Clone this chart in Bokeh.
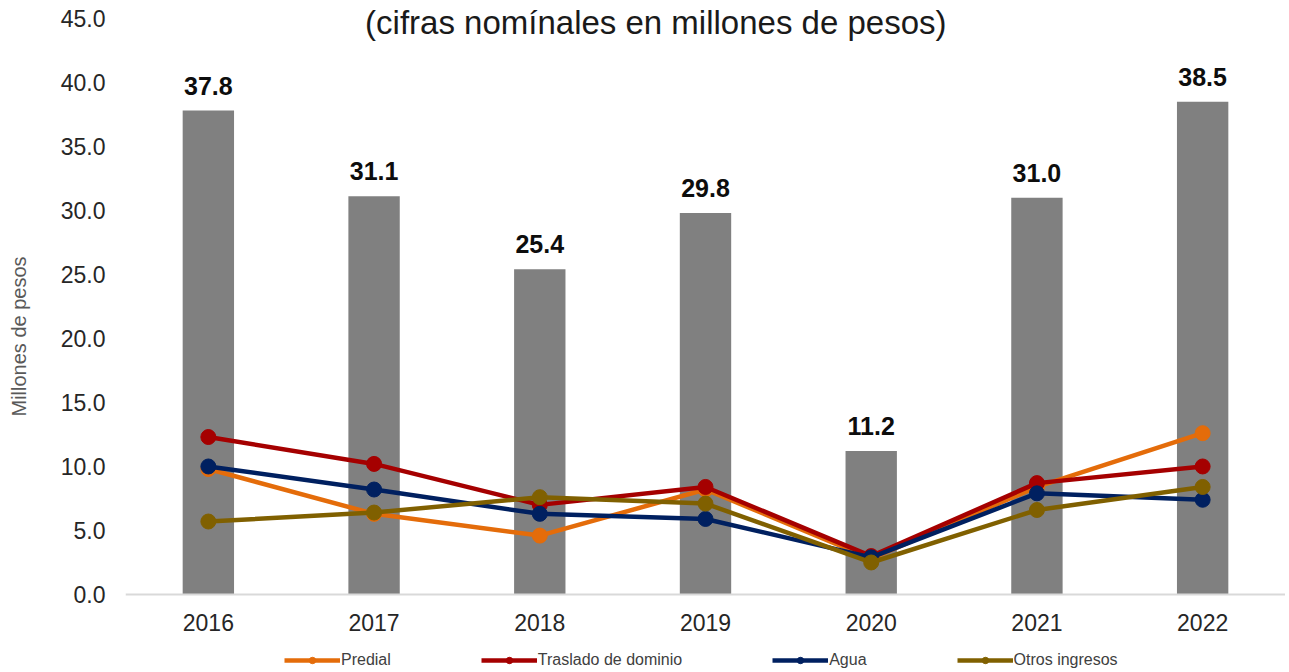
from bokeh.plotting import figure
from bokeh.models import ColumnDataSource, Label, Legend, LegendItem, FactorRange, Range1d, NumeralTickFormatter, FixedTicker
from bokeh.core.properties import value
from bokeh.embed import file_html
from bokeh.resources import INLINE

years = ["2016", "2017", "2018", "2019", "2020", "2021", "2022"]
total = [37.8, 31.1, 25.4, 29.8, 11.2, 31.0, 38.5]
predial = [9.8, 6.3, 4.6, 8.2, 2.8, 8.4, 12.6]
traslado = [12.3, 10.2, 7.0, 8.4, 3.0, 8.7, 10.0]
agua = [10.0, 8.2, 6.3, 5.9, 2.9, 7.9, 7.4]
otros = [5.7, 6.4, 7.6, 7.1, 2.5, 6.6, 8.4]
series_names = ["Predial", "Traslado de dominio", "Agua", "Otros ingresos"]
series_colors = ["#E46C0A", "#A50000", "#002060", "#806000"]
title_text = "(cifras nomínales en millones de pesos)"
y_label = "Millones de pesos"
y_ticks = [0, 5, 10, 15, 20, 25, 30, 35, 40, 45]

FONT = "Liberation Sans"

# frame extends below zero so the legend can sit inside it; x axis is pinned at y=0
p = figure(frame_width=1160, frame_height=672, x_range=FactorRange(*years, range_padding=0),
           y_range=Range1d(-6.094, 46.4), output_backend="svg", toolbar_location=None,
           min_border_left=125, min_border_top=0, min_border_right=0,
           min_border_bottom=0)
p.outline_line_color = None
p.xgrid.grid_line_color = None
p.ygrid.grid_line_color = None
p.background_fill_color = "white"
p.border_fill_color = "white"

src = ColumnDataSource(dict(x=years, total=total, lbl=[f"{v:.1f}" for v in total]))
p.vbar(x="x", top="total", bottom=0, width=0.31, source=src, fill_color="#808080", line_color=None)
p.text(x="x", y="total", text="lbl", source=src, text_align="center", text_baseline="bottom",
       y_offset=-16, text_font=value(FONT), text_font_size="25px", text_font_style="bold",
       text_color="#0d0d0d")

items = []
for name, vals, col in zip(series_names, [predial, traslado, agua, otros], series_colors):
    r1 = p.line(years, vals, line_color=col, line_width=4.5)
    r2 = p.scatter(years, vals, marker="circle", size=15, fill_color=col, line_color=col)
    items.append(LegendItem(label=name, renderers=[r1, r2]))

legend = Legend(items=items, orientation="horizontal", location=(159, 3),
                label_text_font=FONT, label_text_font_size="16px", label_text_color="#404040",
                glyph_width=56, glyph_height=16, spacing=90, label_standoff=1,
                border_line_color=None, background_fill_alpha=0, padding=0, margin=0)
p.add_layout(legend)

p.yaxis.ticker = FixedTicker(ticks=y_ticks)
p.yaxis.formatter = NumeralTickFormatter(format="0.0")
p.yaxis.axis_line_color = None
p.yaxis.major_tick_line_color = None
p.yaxis.minor_tick_line_color = None
p.yaxis.major_label_text_font = FONT
p.yaxis.major_label_text_font_size = "23px"
p.yaxis.major_label_text_color = "#262626"
p.yaxis.major_label_standoff = 14
p.yaxis.axis_label = y_label
p.yaxis.axis_label_text_font = FONT
p.yaxis.axis_label_text_font_size = "20px"
p.yaxis.axis_label_text_font_style = "normal"
p.yaxis.axis_label_text_color = "#595959"
p.yaxis.axis_label_standoff = 28

p.xaxis.fixed_location = 0
p.xaxis.axis_line_color = "#D9D9D9"
p.xaxis.axis_line_width = 2
p.xaxis.major_tick_line_color = None
p.xaxis.minor_tick_line_color = None
p.xaxis.major_label_text_font = FONT
p.xaxis.major_label_text_font_size = "23px"
p.xaxis.major_label_text_color = "#262626"
p.xaxis.major_label_standoff = 14

p.add_layout(Label(x=3.2, y=44.7, text=title_text, text_align="center", text_baseline="middle",
                   text_font=FONT, text_font_size="33px", text_color="#1a1a1a"))

open("out.html", "w").write(file_html(p, INLINE))
